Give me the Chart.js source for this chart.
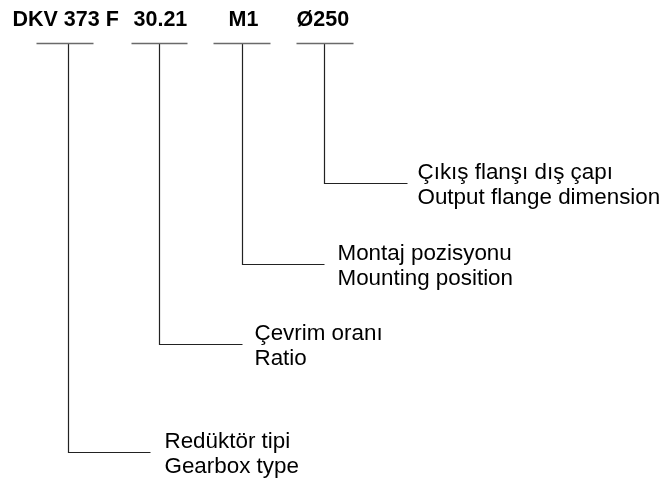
<!DOCTYPE html>
<html>
<head>
<meta charset="utf-8">
<script src="https://cdn.jsdelivr.net/npm/chart.js@4"></script>
<style>
  body { margin: 0; background: #fff; }
  #wrap { width: 664px; height: 483px; position: relative; }
</style>
</head>
<body>
<div id="wrap"><canvas id="chart"></canvas></div>
<script>
// Type code parts (header) and their explanations
const codes = ["DKV 373 F", "30.21", "M1", "Ø250"];
const labelsTr = ["Redüktör tipi", "Çevrim oranı", "Montaj pozisyonu", "Çıkış flanşı dış çapı"];
const labelsEn = ["Gearbox type", "Ratio", "Mounting position", "Output flange dimension"];

// Diagram coordinates (data units of the hidden scales)
const codeX = [12, 133, 228, 296];
const barLeft = [36, 131, 213, 296];
const barRight = [93, 187, 270, 353];
const branchX = [68, 159, 242, 324];
const branchY = [452, 344, 264, 183];
const branchEnd = [150, 242, 324, 407];
const labelX = [164, 254, 337, 417];
const barY = 43;
const codeY = 20;

let datasets = [];
codes.forEach((c, i) => {
  // short bar under the code
  datasets.push({
    data: [{ x: barLeft[i], y: barY }, { x: barRight[i], y: barY }],
    borderColor: "#6a6a6a", borderWidth: 1.4, pointRadius: 0, showLine: true
  });
  // leader line down and right
  datasets.push({
    data: [{ x: branchX[i], y: barY }, { x: branchX[i], y: branchY[i] }, { x: branchEnd[i], y: branchY[i] }],
    borderColor: "#222", borderWidth: 1.2, pointRadius: 0, showLine: true
  });
});

// Text labels drawn at data positions
const textPlugin = {
  id: "texts",
  afterDatasetsDraw(chart) {
    let ctx = chart.ctx;
    let xs = chart.scales.x, ys = chart.scales.y;
    ctx.save();
    ctx.fillStyle = "#000";
    ctx.textBaseline = "middle";
    ctx.textAlign = "left";
    ctx.font = "bold 21.5px 'Liberation Sans', Arial, sans-serif";
    codes.forEach((c, i) => {
      ctx.fillText(c, xs.getPixelForValue(codeX[i]), ys.getPixelForValue(codeY));
    });
    ctx.font = "22.4px 'Liberation Sans', Arial, sans-serif";
    codes.forEach((c, i) => {
      let x = xs.getPixelForValue(labelX[i]);
      ctx.fillText(labelsTr[i], x, ys.getPixelForValue(branchY[i] - 11));
      ctx.fillText(labelsEn[i], x, ys.getPixelForValue(branchY[i] + 14));
    });
    ctx.restore();
  }
};

new Chart(document.getElementById("chart"), {
  type: "scatter",
  data: { datasets: datasets },
  options: {
    responsive: true,
    maintainAspectRatio: false,
    animation: false,
    layout: { padding: 0 },
    plugins: { legend: { display: false }, tooltip: { enabled: false } },
    elements: { line: { tension: 0 } },
    scales: {
      x: { type: "linear", min: -0.5, max: 663.5, display: false },
      y: { type: "linear", min: -0.5, max: 482.5, reverse: true, display: false }
    }
  },
  plugins: [textPlugin]
});
</script>
</body>
</html>
